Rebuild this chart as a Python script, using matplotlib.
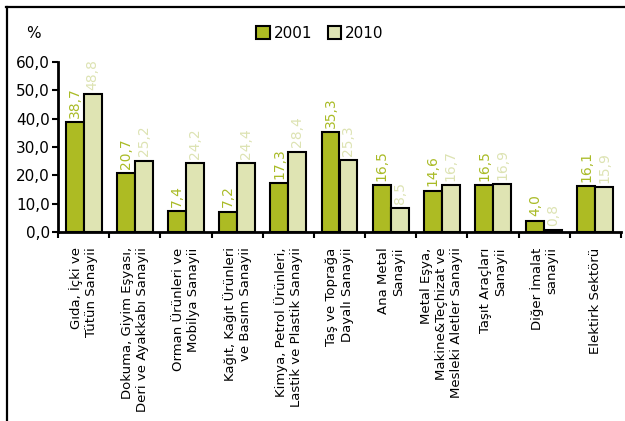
import matplotlib
matplotlib.use("Agg")
import matplotlib.pyplot as plt
import numpy as np
from matplotlib.lines import Line2D

plt.rcParams['font.family'] = ['Liberation Sans Narrow', 'DejaVu Sans Condensed', 'DejaVu Sans']

categories = [
    "Gıda, İçki ve\nTütün Sanayii",
    "Dokuma, Giyim Eşyası,\nDeri ve Ayakkabı Sanayii",
    "Orman Ürünleri ve\nMobilya Sanayii",
    "Kağıt, Kağıt Ürünleri\nve Basım Sanayii",
    "Kimya, Petrol Ürünleri,\nLastik ve Plastik Sanayii",
    "Taş ve Toprağa\nDayalı Sanayii",
    "Ana Metal\nSanayii",
    "Metal Eşya,\nMakine&Teçhizat ve\nMesleki Aletler Sanayii",
    "Taşıt Araçları\nSanayii",
    "Diğer İmalat\nsanayii",
    "Elektirk Sektörü",
]
v2001 = [38.7, 20.7, 7.4, 7.2, 17.3, 35.3, 16.5, 14.6, 16.5, 4.0, 16.1]
v2010 = [48.8, 25.2, 24.2, 24.4, 28.4, 25.3, 8.5, 16.7, 16.9, 0.8, 15.9]
series_names = ["2001", "2010"]
yticks = [0, 10, 20, 30, 40, 50, 60]

c2001 = "#adbb23"
c2010 = "#dfe4b3"
lab2001 = "#a9bb26"
lab2010 = "#dde3b3"

W, H = 625, 421
fig = plt.figure(figsize=(W / 100, H / 100), dpi=100)
ax = fig.add_axes([58 / W, 1 - 232 / H, (621 - 58) / W, (232 - 62) / H])

n = len(categories)
x = np.arange(n)
bw = 0.35
b1 = ax.bar(x - bw / 2, v2001, bw, color=c2001, edgecolor="black", linewidth=1.5, label=series_names[0])
b2 = ax.bar(x + bw / 2, v2010, bw, color=c2010, edgecolor="black", linewidth=1.5, label=series_names[1])

def fmt(v):
    return f"{v:.1f}".replace(".", ",")

for xi, v in zip(x - bw / 2, v2001):
    ax.annotate(fmt(v), (xi, v), xytext=(0, 3), textcoords="offset points",
                rotation=90, ha="center", va="bottom", color=lab2001, fontsize=10)
for xi, v in zip(x + bw / 2, v2010):
    ax.annotate(fmt(v), (xi, v), xytext=(0, 3), textcoords="offset points",
                rotation=90, ha="center", va="bottom", color=lab2010, fontsize=10)

ax.set_xlim(-0.5, n - 0.5)
ax.set_ylim(0, 60)
ax.set_yticks(yticks)
ax.set_yticklabels([fmt(t) for t in yticks], fontsize=11)
ax.tick_params(axis="y", direction="out", length=4, width=1.5, pad=2)

ax.set_xticks(x)
ax.set_xticklabels(categories, rotation=90, ha="center", va="top",
                   multialignment="right", fontsize=9.5)
ax.tick_params(axis="x", which="major", length=0, pad=11)
ax.set_xticks(np.arange(-0.5, n, 1.0), minor=True)
ax.tick_params(axis="x", which="minor", direction="out", length=4, width=1.5)

for s in ["top", "right"]:
    ax.spines[s].set_visible(False)
for s in ["left", "bottom"]:
    ax.spines[s].set_linewidth(2)

fig.text(33 / W, 1 - 33 / H, "%", ha="center", va="center", fontsize=11)

leg = fig.legend(handles=[b1, b2], loc="center", bbox_to_anchor=(320 / W, 1 - 33 / H),
                 ncol=2, frameon=False, fontsize=11, handlelength=0.9, handleheight=0.9,
                 handletextpad=0.25, columnspacing=1.0)

fig.add_artist(Line2D([6 / W, 1.0], [1 - 6.5 / H, 1 - 6.5 / H], color="black", linewidth=1.6,
                      transform=fig.transFigure))
fig.add_artist(Line2D([6.5 / W, 6.5 / W], [0, 1 - 6.5 / H], color="black", linewidth=1.6,
                      transform=fig.transFigure))

fig.savefig("out.png", dpi=100)
